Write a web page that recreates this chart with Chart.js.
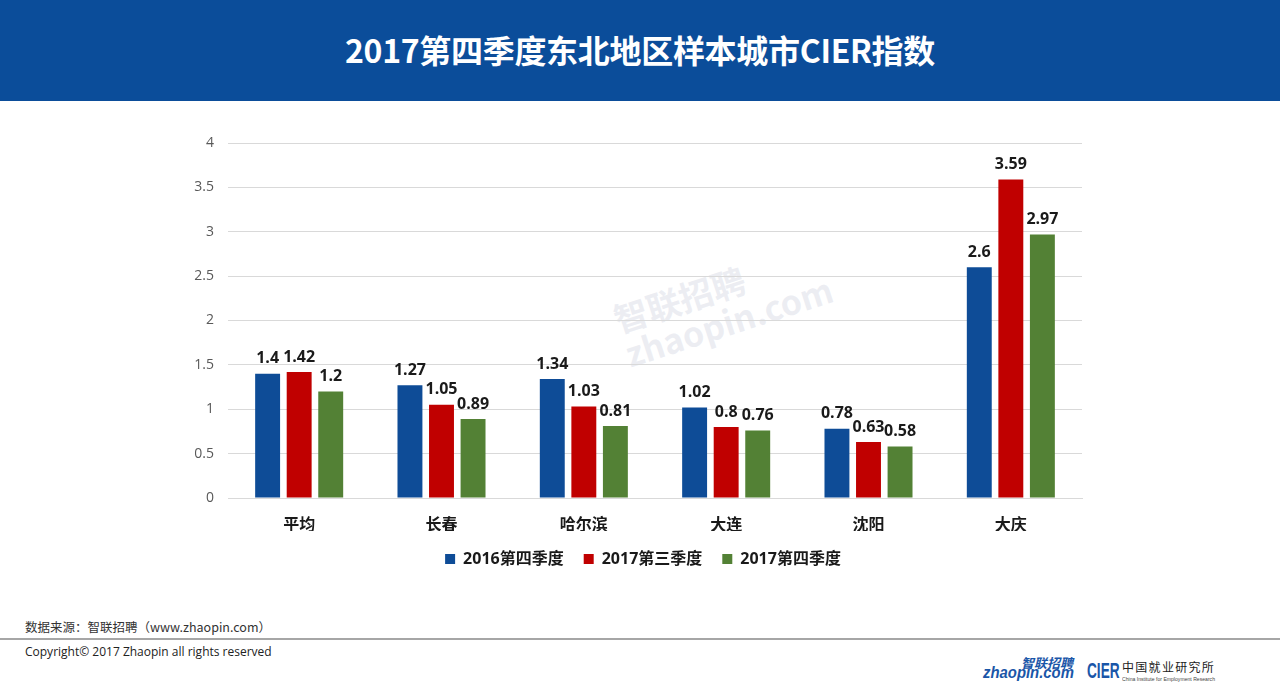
<!DOCTYPE html>
<html><head><meta charset="utf-8">
<script src="https://cdn.jsdelivr.net/npm/chart.js@4.4.1/dist/chart.umd.min.js"></script>
<style>
html,body{margin:0;padding:0;width:1280px;height:695px;overflow:hidden;background:#fff;font-family:"Open Sans","Noto Sans CJK SC",sans-serif;}
#hdr{position:absolute;left:0;top:0;width:1280px;height:101px;background:#0B4D9A;}
#title{position:absolute;left:0;top:26px;width:1280px;text-align:center;color:#fff;font:bold 32px "Noto Sans CJK SC",sans-serif;letter-spacing:-0.3px;}
#wrap{position:absolute;left:0;top:120px;width:1280px;height:470px;}
#src{position:absolute;left:25px;top:617px;font:12.5px "Noto Sans CJK SC","Open Sans",sans-serif;color:#333;}
#line{position:absolute;left:0;top:638px;width:1280px;height:2px;background:#a6a6a6;}
#copy{position:absolute;left:25px;top:643px;font:12px "Open Sans",sans-serif;color:#222;}
#wm{position:absolute;left:615px;top:268px;transform:rotate(-18deg);color:rgba(200,205,220,0.35);font:bold 34px "Noto Sans CJK SC",sans-serif;line-height:36px;pointer-events:none;}
.lg{position:absolute;white-space:nowrap;transform-origin:0 0;}
#logo1{left:983px;top:664px;font:italic bold 16px "Liberation Sans",sans-serif;color:#1a56a8;transform:scaleX(0.93);}
#logo1b{left:1021px;top:655px;font:bold italic 13px "Noto Sans CJK SC",sans-serif;color:#1a56a8;line-height:16px;}
#cier{left:1087px;top:659px;font:bold 22px "Liberation Sans",sans-serif;color:#1a56a8;line-height:24px;transform:scaleX(0.62);}
#cier2{left:1122px;top:660px;font:12px "Noto Sans CJK SC",sans-serif;color:#222;letter-spacing:1.3px;line-height:14px;}
#cier3{left:1122px;top:676px;font:6px "Liberation Sans",sans-serif;color:#444;transform:scaleX(0.85);}
</style></head>
<body>
<div id="hdr"></div>
<div id="title">2017第四季度东北地区样本城市CIER指数</div>
<div id="wm">智联招聘<br>zhaopin.com</div>
<div id="wrap"><canvas id="c"></canvas></div>
<div id="src">数据来源：智联招聘（www.zhaopin.com）</div>
<div id="line"></div>
<div id="copy">Copyright© 2017 Zhaopin all rights reserved</div>
<div class="lg" id="logo1b">智联招聘</div>
<div class="lg" id="logo1">zhaopin.com</div>
<div class="lg" id="cier">CIER</div>
<div class="lg" id="cier2">中国就业研究所</div>
<div class="lg" id="cier3">China Institute for Employment Research</div>
<script>
const categories = ["平均","长春","哈尔滨","大连","沈阳","大庆"];
const seriesNames = ["2016第四季度","2017第三季度","2017第四季度"];
const q4_2016 = [1.4,1.27,1.34,1.02,0.78,2.6];
const q3_2017 = [1.42,1.05,1.03,0.8,0.63,3.59];
const q4_2017 = [1.2,0.89,0.81,0.76,0.58,2.97];
const yTicks = [0,0.5,1,1.5,2,2.5,3,3.5,4];
const colors = ["#0E4C97","#C00000","#538135"];

const labelPlugin = {
  id:'vals',
  afterDatasetsDraw(chart){
    const ctx = chart.ctx;
    ctx.save();
    ctx.font = 'bold 16px "Open Sans","Noto Sans CJK SC",sans-serif';
    ctx.fillStyle = '#1a1a1a';
    ctx.textAlign = 'center';
    ctx.textBaseline = 'bottom';
    chart.data.datasets.forEach((ds,i)=>{
      chart.getDatasetMeta(i).data.forEach((bar,j)=>{
        ctx.fillText(String(ds.data[j]), bar.x, bar.y - 7);
      });
    });
    ctx.restore();
  }
};

new Chart(document.getElementById('c'),{
  type:'bar',
  data:{
    labels:categories,
    datasets:[q4_2016,q3_2017,q4_2017].map((d,i)=>({label:seriesNames[i],data:d,backgroundColor:colors[i],borderWidth:0,barPercentage:0.79,categoryPercentage:0.665}))
  },
  options:{
    responsive:true,maintainAspectRatio:false,animation:false,
    layout:{padding:{left:178,right:172,top:23,bottom:13}},
    plugins:{
      legend:{position:'bottom',labels:{boxWidth:10,boxHeight:10,padding:20,color:'#1a1a1a',font:{size:16,weight:'bold',family:'"Open Sans","Noto Sans CJK SC",sans-serif'}}},
      tooltip:{enabled:false}
    },
    scales:{
      x:{
        grid:{display:false},
        border:{color:'#d9d9d9',width:1},
        ticks:{padding:8,color:'#1a1a1a',font:{size:16,weight:'bold',family:'"Noto Sans CJK SC",sans-serif'}},
        afterFit(s){s.height=33;}
      },
      y:{
        min:0,max:4,
        afterBuildTicks(s){s.ticks=yTicks.map(v=>({value:v}));},
        grid:{color:'#d9d9d9',drawTicks:false},
        border:{display:false},
        ticks:{padding:14,color:'#595959',font:{size:14,family:'"Open Sans",sans-serif'},callback:v=>String(v)},
        afterFit(s){s.width=50;}
      },
      yR:{
        position:'right',min:0,max:4,
        grid:{display:false,drawTicks:false},
        border:{display:false},
        ticks:{display:false},
        afterFit(s){s.width=26;}
      }
    }
  },
  plugins:[labelPlugin]
});
</script>
</body></html>
